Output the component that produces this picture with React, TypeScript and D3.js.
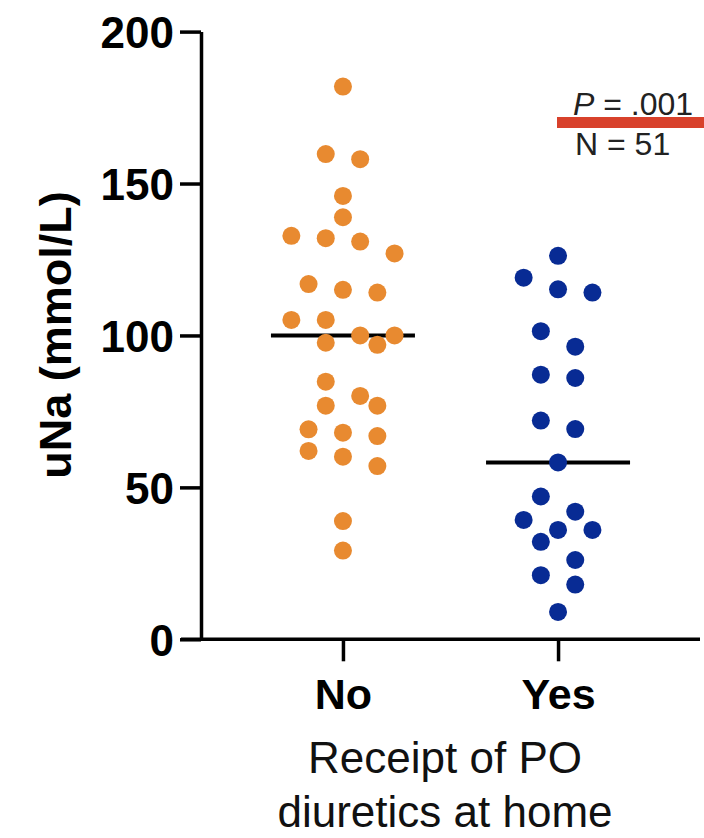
import * as d3 from "d3";
import { useEffect, useRef } from "react";

const groups = ["No", "Yes"];
const noValues = [181.9, 159.7, 158, 145.9, 138.9, 132.8, 132, 130.9, 127, 116.9, 115, 114.1, 105.1, 105.1, 100, 100, 97.6, 96.9, 84.8, 80.1, 76.9, 76.9, 69.1, 68, 66.9, 62, 60.1, 57, 38.9, 29.2];
const yesValues = [126.2, 119, 115.2, 114.1, 101.4, 96.3, 87.1, 86, 72, 69.2, 58.2, 47, 42, 39.3, 36, 36, 32.1, 26.1, 21.1, 18, 9];
const groupColors = ["#E88A30", "#082B94"];
const yTicks = [0, 50, 100, 150, 200];
const yLabel = "uNa (mmol/L)";
const xTitle = ["Receipt of PO", "diuretics at home"];
const pText = ".001";
const nText = "N = 51";

const width = 704;
const height = 838;
const font = "'Liberation Sans', Arial, Helvetica, sans-serif";

// rows of points spread symmetrically, nudged sideways when they'd overlap
function swarm(values: number[], y: (v: number) => number, step: number, diam: number) {
  const sorted = [...values].sort((a, b) => b - a);
  const placed: { v: number; s: number; y: number }[] = [];
  let i = 0;
  while (i < sorted.length) {
    const start = y(sorted[i]);
    let j = i;
    while (j < sorted.length && y(sorted[j]) - start < diam) j++;
    const row = sorted.slice(i, j);
    const n = row.length;
    row.forEach((v, k) => {
      const target = 2 * k - (n - 1);
      const py = y(v);
      const cands = d3.range(-4, 5).sort((a, b) => Math.abs(a - target) - Math.abs(b - target) || Math.abs(a) - Math.abs(b));
      const s = cands.find(c => placed.every(q => Math.hypot((c - q.s) * step, py - q.y) >= diam));
      placed.push({ v, s: s ?? target, y: py });
    });
    i = j;
  }
  return placed;
}

export default function App() {
  const ref = useRef<SVGSVGElement>(null);

  useEffect(() => {
    const svg = d3.select(ref.current);
    svg.selectAll("*").remove();

    const y = d3.scaleLinear().domain([0, 200]).range([639.3, 31.6]);
    const x = d3.scalePoint().domain(groups).range([201, 700]).padding(0.66);

    // median lines
    const series = [noValues, yesValues];
    svg.append("g")
      .selectAll("line")
      .data(series)
      .join("line")
      .attr("x1", (d, i) => x(groups[i])! - 72)
      .attr("x2", (d, i) => x(groups[i])! + 72)
      .attr("y1", d => y(d3.median(d)!))
      .attr("y2", d => y(d3.median(d)!))
      .attr("stroke", "#000")
      .attr("stroke-width", 4);

    // dots
    series.forEach((vals, gi) => {
      const pts = swarm(vals, y, 17.2, 18.5);
      svg.append("g")
        .selectAll("circle")
        .data(pts)
        .join("circle")
        .attr("cx", d => x(groups[gi])! + d.s * 17.2)
        .attr("cy", d => d.y)
        .attr("r", 9)
        .attr("fill", groupColors[gi]);
    });

    // y axis
    const gy = svg.append("g")
      .attr("transform", "translate(201,0)")
      .call(d3.axisLeft(y).tickValues(yTicks).tickSize(21).tickSizeOuter(0).tickPadding(6));
    gy.select(".domain").attr("stroke", "#000").attr("stroke-width", 3.5);
    gy.selectAll(".tick line").attr("stroke", "#000").attr("stroke-width", 3.5);
    gy.selectAll(".tick text")
      .attr("font-family", font)
      .attr("font-weight", "bold")
      .attr("font-size", 44)
      .attr("fill", "#000")
      .attr("dy", "0.36em");

    // x axis
    const gx = svg.append("g")
      .attr("transform", "translate(0,639.3)")
      .call(d3.axisBottom(x).tickSize(22).tickSizeOuter(0).tickPadding(17));
    gx.select(".domain").attr("stroke", "#000").attr("stroke-width", 3.5).attr("d", "M181,0H700");
    gx.selectAll(".tick line").attr("stroke", "#000").attr("stroke-width", 3.5);
    gx.selectAll(".tick text")
      .attr("font-family", font)
      .attr("font-weight", "bold")
      .attr("font-size", 43)
      .attr("fill", "#000");

    // y label
    svg.append("text")
      .attr("transform", "translate(71,335) rotate(-90)")
      .attr("text-anchor", "middle")
      .attr("font-family", font)
      .attr("font-weight", "bold")
      .attr("font-size", 45)
      .attr("fill", "#000")
      .text(yLabel);

    // x title
    svg.append("g")
      .selectAll("text")
      .data(xTitle)
      .join("text")
      .attr("x", 445)
      .attr("y", (d, i) => 773 + i * 54)
      .attr("text-anchor", "middle")
      .attr("font-family", font)
      .attr("font-size", 44)
      .attr("fill", "#111")
      .text(d => d);

    // annotation
    const pt = svg.append("text")
      .attr("x", 573)
      .attr("y", 115)
      .attr("font-family", font)
      .attr("font-size", 32)
      .attr("fill", "#222");
    pt.append("tspan").attr("font-style", "italic").text("P");
    pt.append("tspan").text(" = " + pText);

    svg.append("rect")
      .attr("x", 557)
      .attr("y", 117)
      .attr("width", 147)
      .attr("height", 11)
      .attr("fill", "#D8412B");

    svg.append("text")
      .attr("x", 575)
      .attr("y", 155)
      .attr("font-family", font)
      .attr("font-size", 32)
      .attr("fill", "#222")
      .text(nText);
  }, []);

  return (
    <svg
      ref={ref}
      width={width}
      height={height}
      style={{ position: "absolute", left: 0, top: 0, background: "#fff" }}
    />
  );
}
